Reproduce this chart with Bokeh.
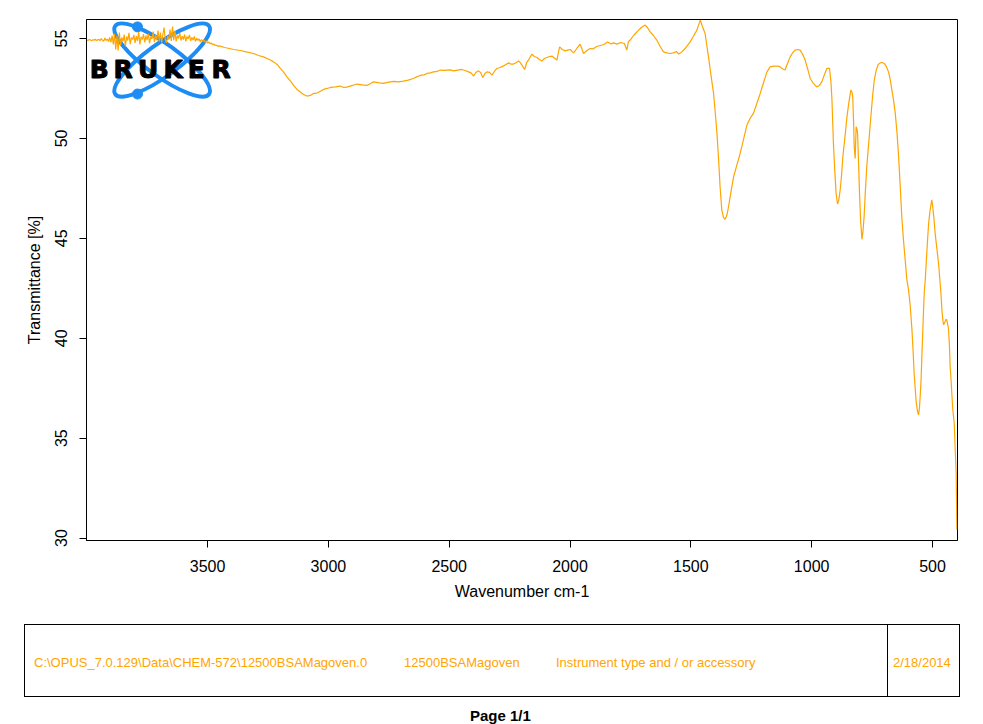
from bokeh.plotting import figure
from bokeh.models import Range1d, FixedTicker, Div
from bokeh.layouts import column
from bokeh.core.properties import value
from bokeh.embed import file_html
from bokeh.resources import INLINE

# ---------------- data ----------------
WN_NOISY = list(range(4000, 3450, -5))
TR_NOISY = [54.92, 54.90, 54.95, 54.93, 54.88, 54.94, 54.91, 54.97, 54.90, 54.93,
            54.95, 54.89, 54.99, 54.92, 54.86, 55.02, 54.90, 54.97, 54.85, 55.05,
            54.80, 55.15, 54.70, 55.25, 54.45, 55.15, 54.40, 55.30, 54.65, 55.05,
            54.85, 55.20, 54.60, 55.10, 54.90, 55.28, 54.72, 55.05, 54.95, 55.18,
            54.78, 55.12, 54.88, 55.32, 54.70, 55.08, 54.95, 55.22, 54.80, 55.15,
            54.92, 55.25, 54.75, 55.10, 54.98, 55.35, 54.82, 55.18, 54.90, 55.40,
            54.85, 55.30, 54.80, 55.20, 55.55, 54.95, 54.78, 55.12, 54.95, 55.45,
            54.88, 55.60, 54.92, 55.38, 54.85, 55.15, 55.00, 55.28, 54.90, 55.12,
            54.95, 55.20, 54.85, 55.10, 54.98, 55.18, 54.88, 55.05, 54.92, 55.10,
            54.85, 55.02, 54.90, 54.98, 54.82, 54.95, 54.86, 54.92, 54.80, 54.88,
            54.78, 54.82, 54.74, 54.78, 54.70, 54.72, 54.66, 54.68, 54.62, 54.63]

WN_A = [3448, 3430, 3410, 3392, 3365, 3340, 3310, 3290, 3268, 3254,
        3240, 3227, 3212, 3199, 3186, 3170, 3156, 3144, 3130, 3117,
        3103, 3089, 3075, 3061, 3047, 3035, 3020, 3005, 2992]
TR_A = [54.62, 54.55, 54.50, 54.45, 54.40, 54.33, 54.25, 54.15, 54.08, 54.00,
        53.92, 53.83, 53.70, 53.50, 53.33, 53.05, 52.85, 52.65, 52.45, 52.33,
        52.20, 52.12, 52.15, 52.25, 52.27, 52.35, 52.45, 52.50, 52.55]

WN_B = [2970, 2951, 2937, 2924, 2900, 2882, 2860, 2841, 2825, 2813,
        2790, 2772, 2750, 2730, 2710, 2689, 2670, 2648, 2635, 2620,
        2605, 2592, 2578, 2565, 2550, 2537, 2523, 2510, 2495, 2482,
        2465, 2448, 2435, 2420, 2410, 2399, 2390, 2379, 2370, 2361,
        2352, 2344, 2333, 2323, 2313, 2303, 2290, 2275, 2265, 2254,
        2245, 2234, 2222, 2213, 2205, 2199, 2188, 2179, 2170, 2158,
        2148, 2137, 2127, 2117, 2106, 2096, 2085, 2075, 2065, 2054,
        2048, 2043, 2032, 2020, 2010, 1999, 1992, 1985, 1972, 1958,
        1950, 1944, 1930, 1917, 1905, 1890, 1875, 1860, 1845, 1830,
        1820, 1805, 1790, 1775, 1765, 1758, 1751, 1737, 1723, 1705,
        1689, 1680, 1668, 1655, 1641, 1627, 1613, 1600, 1585, 1572,
        1560, 1550, 1537, 1520, 1503, 1490, 1475, 1461]
TR_B = [52.58, 52.62, 52.55, 52.57, 52.65, 52.72, 52.68, 52.65, 52.75, 52.83,
        52.78, 52.75, 52.82, 52.85, 52.83, 52.87, 52.92, 53.00, 53.08, 53.15,
        53.18, 53.25, 53.28, 53.33, 53.35, 53.42, 53.40, 53.42, 53.43, 53.38,
        53.42, 53.45, 53.40, 53.33, 53.28, 53.12, 53.30, 53.38, 53.30, 53.05,
        53.25, 53.33, 53.30, 53.17, 53.35, 53.50, 53.55, 53.63, 53.70, 53.78,
        53.72, 53.72, 53.80, 53.88, 53.78, 53.67, 53.45, 53.80, 53.95, 54.22,
        54.10, 54.05, 53.95, 53.87, 54.00, 54.05, 54.10, 54.12, 54.02, 53.92,
        54.30, 54.58, 54.45, 54.38, 54.42, 54.45, 54.35, 54.28, 54.50, 54.72,
        54.45, 54.25, 54.40, 54.50, 54.48, 54.60, 54.65, 54.70, 54.82, 54.72,
        54.78, 54.72, 54.80, 54.75, 54.42, 54.85, 54.92, 55.15, 55.33, 55.55,
        55.67, 55.55, 55.33, 55.15, 54.92, 54.60, 54.33, 54.28, 54.25, 54.28,
        54.35, 54.22, 54.33, 54.55, 54.83, 55.10, 55.42, 55.92]

WN_C = [1452, 1441, 1427, 1416, 1406, 1399, 1392, 1385, 1379, 1372,
        1365, 1358, 1351, 1344, 1333, 1323, 1310, 1296, 1282, 1268,
        1255, 1241, 1227, 1213, 1199, 1185, 1172, 1158, 1144, 1133,
        1123, 1110, 1100, 1089, 1078, 1068, 1058, 1048, 1037, 1027,
        1016, 1006, 993, 979, 968, 958, 947, 937, 926, 920,
        916, 910, 904, 899, 893, 888, 882, 876, 871, 862,
        854, 846, 838, 833, 830, 826, 824, 820, 818, 816,
        813, 810, 806, 802, 797, 792, 788, 783, 778, 772,
        763, 755, 748, 741, 733, 725, 716, 708, 700, 691,
        682, 675, 668, 661, 654, 647, 641, 634, 627, 620,
        613, 606, 599, 592, 585, 580, 576, 571, 567, 562,
        558, 554, 551, 547, 544, 540, 537, 534, 530, 526,
        521, 516, 510, 503, 500, 494, 489, 482, 475, 470,
        465, 461, 457, 454, 451, 448, 444, 441, 437, 434,
        430, 427, 423, 420, 416, 413, 410, 406, 402, 400,
        399]
TR_C = [55.60, 55.25, 54.08, 53.10, 52.25, 51.30, 50.25, 48.92, 47.58, 46.42,
        46.05, 45.95, 46.15, 46.58, 47.40, 48.08, 48.65, 49.25, 49.95, 50.67,
        51.00, 51.25, 51.75, 52.25, 52.80, 53.33, 53.58, 53.62, 53.62, 53.60,
        53.50, 53.42, 53.75, 54.08, 54.30, 54.42, 54.45, 54.42, 54.20, 53.92,
        53.45, 53.00, 52.75, 52.58, 52.65, 52.83, 53.20, 53.50, 53.50, 52.80,
        51.92, 49.75, 48.30, 47.25, 46.72, 46.90, 47.42, 48.20, 49.08, 50.10,
        51.08, 51.80, 52.42, 52.30, 52.08, 50.60, 49.58, 49.00, 49.80, 50.58,
        50.50, 50.25, 48.80, 47.25, 45.80, 44.95, 45.30, 46.08, 47.30, 48.58,
        49.90, 51.08, 52.10, 52.92, 53.40, 53.70, 53.78, 53.80, 53.75, 53.60,
        53.33, 52.95, 52.42, 51.90, 51.25, 50.30, 49.25, 47.70, 46.08, 44.90,
        43.92, 42.92, 42.42, 41.60, 40.42, 39.30, 38.25, 37.40, 36.75, 36.35,
        36.17, 36.50, 37.08, 38.00, 39.08, 40.40, 41.42, 42.30, 42.92, 43.75,
        44.80, 45.75, 46.40, 46.92, 46.70, 46.00, 45.25, 44.50, 43.75, 43.00,
        42.25, 41.42, 40.90, 40.67, 40.75, 40.83, 40.95, 40.92, 40.70, 40.50,
        39.67, 38.58, 37.90, 37.25, 36.42, 36.10, 35.75, 34.42, 33.25, 31.50,
        30.42]

X_TICKS = [3500, 3000, 2500, 2000, 1500, 1000, 500]
Y_TICKS = [30, 35, 40, 45, 50, 55]

X_LABEL = "Wavenumber cm-1"
Y_LABEL = "Transmittance [%]"
FOOTER_PATH = "C:\\OPUS_7.0.129\\Data\\CHEM-572\\12500BSAMagoven.0"
FOOTER_NAME = "12500BSAMagoven"
FOOTER_INSTR = "Instrument type and / or accessory"
FOOTER_DATE = "2/18/2014"
PAGE_TEXT = "Page 1/1"
LOGO_TEXT = list("BRUKER")

ORANGE = "#FFA500"
BLUE = "#1E8CF5"
FONT = "Liberation Sans"

wn = WN_NOISY + WN_A + WN_B + WN_C
tr = TR_NOISY + TR_A + TR_B + TR_C
n = min(len(wn), len(tr))
wn, tr = wn[:n], tr[:n]

# ---------------- main plot ----------------
p = figure(width=983, height=610,
           x_range=Range1d(4001, 396.5), y_range=Range1d(29.88, 55.95),
           output_backend="svg", toolbar_location=None,
           min_border_left=86, min_border_right=26,
           min_border_top=19, min_border_bottom=70)
p.xgrid.visible = False
p.ygrid.visible = False
p.outline_line_color = "black"
p.outline_line_width = 1
p.outline_line_alpha = 1
p.background_fill_color = "white"
p.border_fill_color = "white"

for ax, ticks in ((p.xaxis[0], X_TICKS), (p.yaxis[0], Y_TICKS)):
    ax.ticker = FixedTicker(ticks=ticks, minor_ticks=[])
    ax.axis_line_color = "black"
    ax.major_tick_line_color = "black"
    ax.major_tick_in = 0
    ax.major_tick_out = 7
    ax.minor_tick_line_color = None
    ax.major_label_text_font = FONT
    ax.major_label_text_font_size = "16px"
    ax.major_label_text_color = "black"
    ax.major_label_standoff = 12
    ax.axis_label_text_font = FONT
    ax.axis_label_text_font_size = "16px"
    ax.axis_label_text_font_style = "normal"
    ax.axis_label_text_color = "black"
    ax.axis_label_standoff = 8

p.xaxis.axis_label = X_LABEL
p.yaxis.axis_label = Y_LABEL
p.yaxis.major_label_orientation = "vertical"
p.yaxis.axis_label_standoff = 10

# Bruker logo (decoration)
LOGO_X, LOGO_Y = 3688, 53.92
p.ellipse(x=[LOGO_X, LOGO_X], y=[LOGO_Y, LOGO_Y], width=116, height=32,
          width_units="screen", height_units="screen",
          angle=[0.63, -0.63], fill_color=None, line_color=BLUE, line_width=4)
p.scatter(x=[3790, 3790], y=[55.58, 52.22], size=10, color=BLUE)
p.text(x=[3696] * 6, y=[53.47] * 6, text=LOGO_TEXT,
       x_offset=[-61, -37, -12, 13, 36, 61],
       text_font=value("DejaVu Sans"), text_font_style="bold",
       text_font_size="25px", text_align="center", text_baseline="alphabetic",
       text_color="black", text_outline_color="black")

p.line(wn, tr, line_color=ORANGE, line_width=1.2)

# ---------------- footer (HTML) ----------------
span = ("position:absolute;top:46px;line-height:13px;font-size:13px;"
        "color:%s;white-space:nowrap;font-family:'Liberation Sans';" % ORANGE)
footer_html = (
    "<div style=\"position:relative;width:983px;height:114px;\">"
    "<div style=\"position:absolute;box-sizing:border-box;left:24px;top:14px;"
    "width:936px;height:73px;border:1px solid black;\"></div>"
    "<div style=\"position:absolute;box-sizing:border-box;left:887px;top:14px;"
    "width:1px;height:73px;background:black;\"></div>"
    f"<span style=\"{span}left:34px;\">{FOOTER_PATH}</span>"
    f"<span style=\"{span}left:404px;\">{FOOTER_NAME}</span>"
    f"<span style=\"{span}left:556px;\">{FOOTER_INSTR}</span>"
    f"<span style=\"{span}left:893px;\">{FOOTER_DATE}</span>"
    "<span style=\"position:absolute;left:470px;top:98px;line-height:15px;"
    "font-size:15px;font-weight:bold;color:black;white-space:nowrap;"
    f"font-family:'Liberation Sans';\">{PAGE_TEXT}</span>"
    "</div>"
)
footer = Div(text=footer_html, width=983, height=114, margin=(0, 0, 0, 0))

layout = column(p, footer, spacing=0)
open("out.html", "w").write(file_html(layout, INLINE))
